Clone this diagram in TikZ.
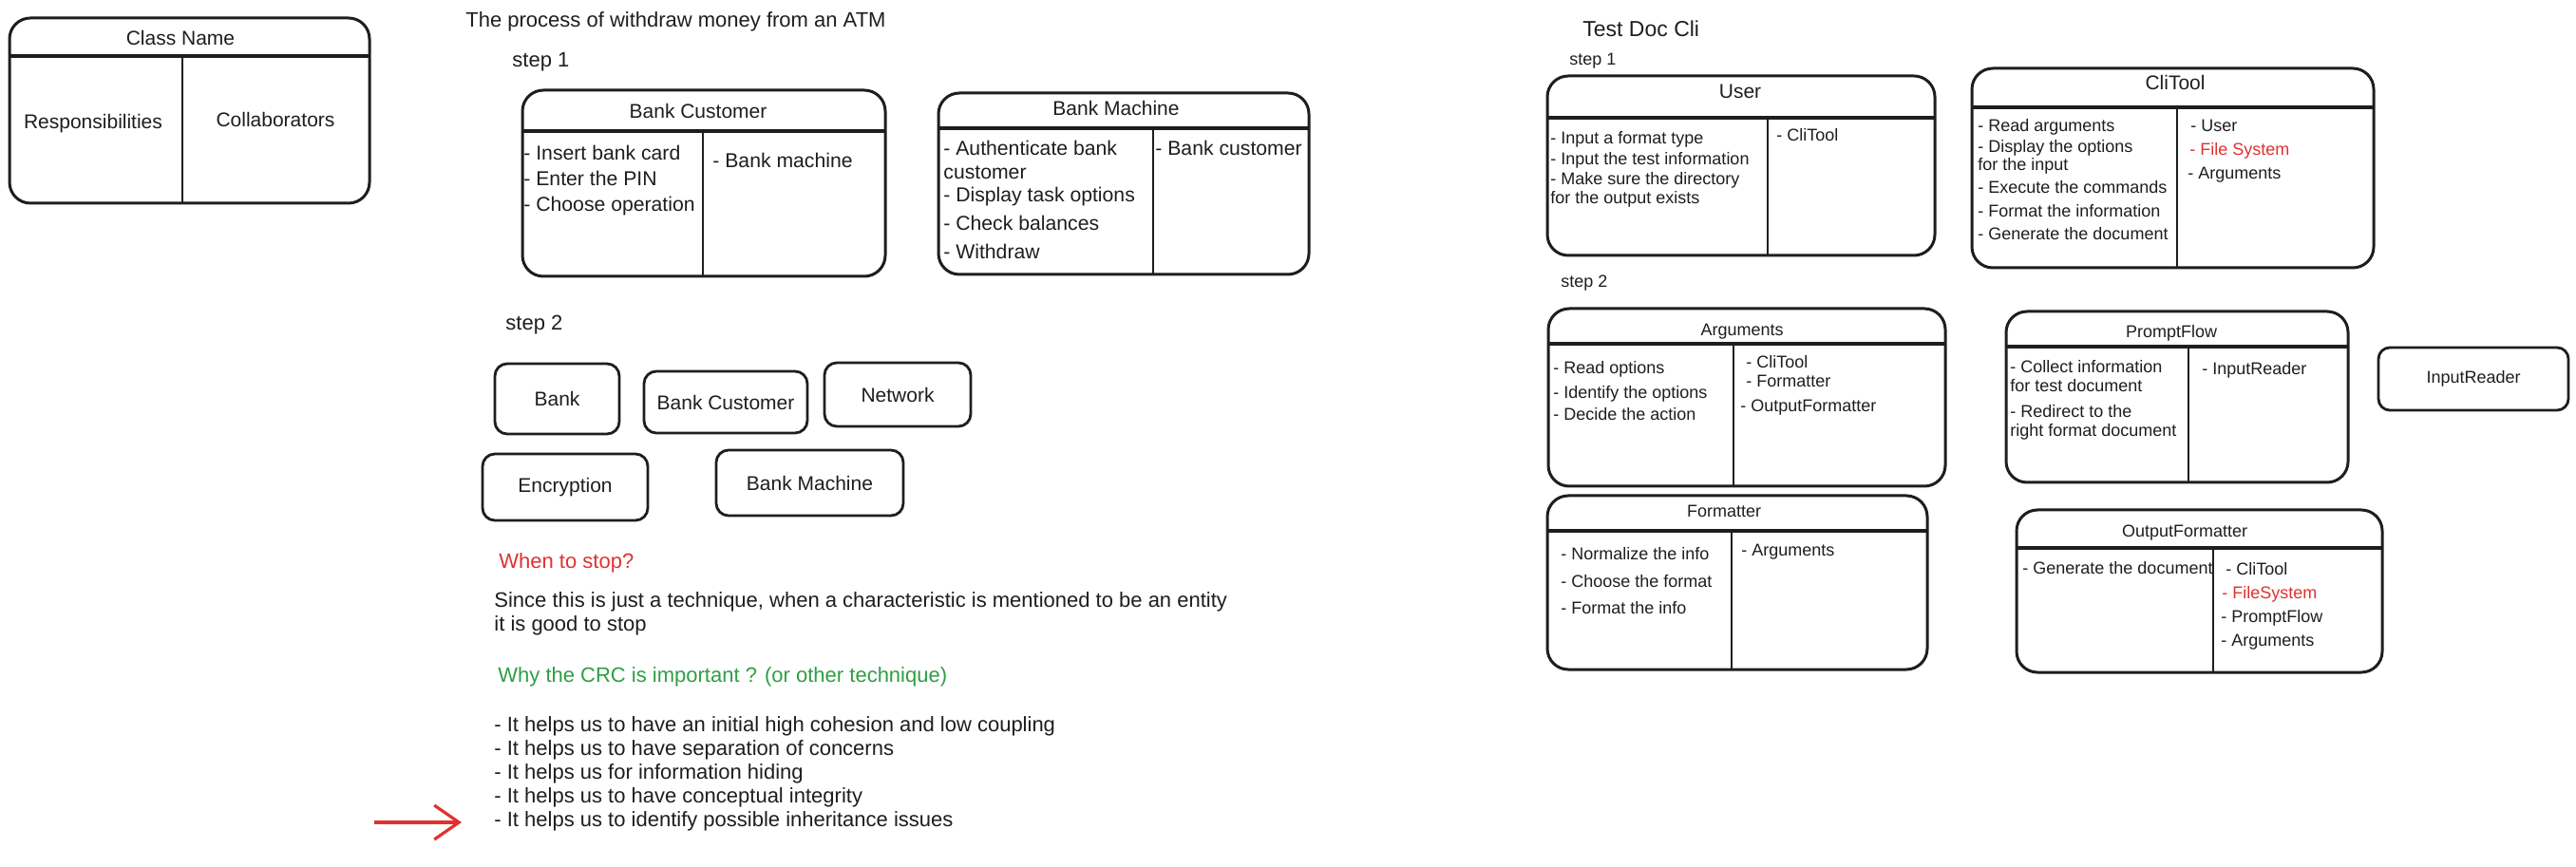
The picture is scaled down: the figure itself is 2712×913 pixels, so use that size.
\documentclass[tikz,border=0pt]{standalone}
\usepackage{fontspec}
\setmainfont{Liberation Sans}
\usetikzlibrary{arrows.meta}
\definecolor{ink}{HTML}{1E1E1E}
\definecolor{redc}{HTML}{E03131}
\definecolor{greenc}{HTML}{2F9E44}
\newcommand\crccard[6]{%
  \draw[card] (#1,#2) rectangle (#3,#4);
  \draw[hdr] (#1,#5) -- (#3,#5);
  \draw[divl] (#6,#5) -- (#6,#4);}
\tikzset{
  card/.style={draw=ink, line width=1.5pt, rounded corners=11pt},
  hdr/.style={draw=ink, line width=2.2pt},
  divl/.style={draw=ink, line width=1.2pt},
  txt/.style={anchor=mid west, inner sep=0pt, text=ink, font=\fontsize{11}{13}\selectfont},
  itm/.style={txt, font=\fontsize{10.6}{12.5}\selectfont},
  ttl/.style={anchor=mid, inner sep=0pt, text=ink, font=\fontsize{10.5}{12}\selectfont},
  sml/.style={txt, font=\fontsize{9}{11}\selectfont},
  smlttl/.style={ttl, font=\fontsize{9}{11}\selectfont},
  entity/.style={draw=ink, line width=1.4pt, rounded corners=6.5pt, inner sep=0pt, text=ink, font=\fontsize{10.5}{12}\selectfont},
  redarrow/.style={draw=redc, line width=1.6pt, -{Straight Barb[length=13pt,width=18pt,line width=1.6pt]}},
}
\begin{document}
\begin{tikzpicture}[x=0.5pt,y=-0.5pt]
\useasboundingbox (0,0) rectangle (2712,913);
\fill[white] (0,0) rectangle (2712,913);

% ---------- Class Name template ----------
\crccard{10}{19}{389}{214}{59}{192}
\node[ttl] (cn) at (190,42) {Class Name};
\node[ttl] (cnresp) at (98,130) {Responsibilities};
\node[ttl] (cncoll) at (290,128) {Collaborators};

% ---------- ATM ----------
\node[txt] (atmtitle) at (490,23) {The process of withdraw money from an ATM};
\node[txt] (stepa1) at (539,65) {step 1};

\crccard{550}{95}{932}{291}{138}{740}
\node[ttl] (bct) at (735,119) {Bank Customer};
\node[itm] (bc1) at (551,163) {- Insert bank card};
\node[itm] (bc2) at (551,190) {- Enter the PIN};
\node[itm] (bc3) at (551,217) {- Choose operation};
\node[itm] (bcc1) at (750,171) {- Bank machine};

\crccard{988}{98}{1378}{289}{135}{1214}
\node[ttl] (bmt) at (1175,116) {Bank Machine};
\node[itm] (bm1) at (993,158) {- Authenticate bank};
\node[itm] (bm1b) at (993,183) {customer};
\node[itm] (bm2) at (993,207) {- Display task options};
\node[itm] (bm3) at (993,237) {- Check balances};
\node[itm] (bm4) at (993,267) {- Withdraw};
\node[itm] (bmc1) at (1216,158) {- Bank customer};

\node[txt] (stepa2) at (532,342) {step 2};
\node[entity, minimum width=65.5pt, minimum height=37pt] (eBank) at (586.5,420) {Bank};
\node[entity, minimum width=86pt, minimum height=32.5pt] (eCust) at (764,423.5) {Bank Customer};
\node[entity, minimum width=77pt, minimum height=33.5pt] (eNet) at (945,415.5) {Network};
\node[entity, minimum width=87pt, minimum height=35pt] (eEnc) at (595,513) {Encryption};
\node[entity, minimum width=98.5pt, minimum height=34.5pt] (eMach) at (852.5,508.5) {Bank Machine};

\node[txt, text=redc] (stop) at (525,593) {When to stop?};
\node[txt] (since1) at (520,634) {Since this is just a technique, when a characteristic is mentioned to be an entity};
\node[txt] (since2) at (520,659) {it is good to stop};
\node[txt, text=greenc] (why) at (524,713) {Why the CRC is important ? (or other technique)};
\node[txt] (li1) at (520,765) {- It helps us to have an initial high cohesion and low coupling};
\node[txt] (li2) at (520,790) {- It helps us to have separation of concerns};
\node[txt] (li3) at (520,815) {- It helps us for information hiding};
\node[txt] (li4) at (520,840) {- It helps us to have conceptual integrity};
\node[txt] (li5) at (520,865) {- It helps us to identify possible inheritance issues};
\coordinate (arrowtail) at (394,866);
\draw[redarrow, shorten >=17pt] (arrowtail) -- (arrowtail -| li5.west);

% ---------- Test Doc Cli ----------
\node[txt, font=\fontsize{11.5}{13}\selectfont] (tdc) at (1666,33) {Test Doc Cli};
\node[sml] (stepb1) at (1652,63) {step 1};

\crccard{1629}{80}{2037}{269}{124}{1861}
\node[ttl] (usert) at (1832,98) {User};
\node[sml] (u1) at (1632,146) {- Input a format type};
\node[sml] (u2) at (1632,168) {- Input the test information};
\node[sml] (u3) at (1632,189) {- Make sure the directory};
\node[sml] (u3b) at (1632,209) {for the output exists};
\node[sml] (uc1) at (1870,143) {- CliTool};

\crccard{2076}{72}{2499}{282}{113}{2292}
\node[ttl] (clit) at (2290,89) {CliTool};
\node[sml] (c1) at (2082,133) {- Read arguments};
\node[sml] (c2) at (2082,155) {- Display the options};
\node[sml] (c2b) at (2082,174) {for the input};
\node[sml] (c3) at (2082,198) {- Execute the commands};
\node[sml] (c4) at (2082,223) {- Format the information};
\node[sml] (c5) at (2082,247) {- Generate the document};
\node[sml] (cc1) at (2306,133) {- User};
\node[sml, text=redc] (cc2) at (2305,158) {- File System};
\node[sml] (cc3) at (2303,183) {- Arguments};

\node[sml] (stepb2) at (1643,297) {step 2};

\crccard{1630}{325}{2048}{512}{362}{1825}
\node[smlttl] (argt) at (1834,348) {Arguments};
\node[sml] (a1) at (1635,388) {- Read options};
\node[sml] (a2) at (1635,414) {- Identify the options};
\node[sml] (a3) at (1635,437) {- Decide the action};
\node[sml] (ac1) at (1838,382) {- CliTool};
\node[sml] (ac2) at (1838,402) {- Formatter};
\node[sml] (ac3) at (1832,428) {- OutputFormatter};

\crccard{2112}{328}{2472}{508}{365}{2304}
\node[smlttl] (pft) at (2286,350) {PromptFlow};
\node[sml] (p1) at (2116,387) {- Collect information};
\node[sml] (p1b) at (2116,407) {for test document};
\node[sml] (p2) at (2116,434) {- Redirect to the};
\node[sml] (p2b) at (2116,454) {right format document};
\node[sml] (pc1) at (2318,389) {- InputReader};

\node[entity, rounded corners=6pt, font=\fontsize{9}{11}\selectfont, minimum width=100pt, minimum height=33pt] (eInput) at (2604,399) {InputReader};

\crccard{1629}{522}{2029}{705}{559}{1823}
\node[smlttl] (fmtt) at (1815,539) {Formatter};
\node[sml] (f1) at (1643,584) {- Normalize the info};
\node[sml] (f2) at (1643,613) {- Choose the format};
\node[sml] (f3) at (1643,641) {- Format the info};
\node[sml] (fc1) at (1833,580) {- Arguments};

\crccard{2123}{537}{2508}{708}{577}{2330}
\node[smlttl] (oft) at (2300,560) {OutputFormatter};
\node[sml] (o1) at (2129,599) {- Generate the document};
\node[sml] (oc1) at (2343,600) {- CliTool};
\node[sml, text=redc] (oc2) at (2339,625) {- FileSystem};
\node[sml] (oc3) at (2338,650) {- PromptFlow};
\node[sml] (oc4) at (2338,675) {- Arguments};
\end{tikzpicture}
\end{document}
